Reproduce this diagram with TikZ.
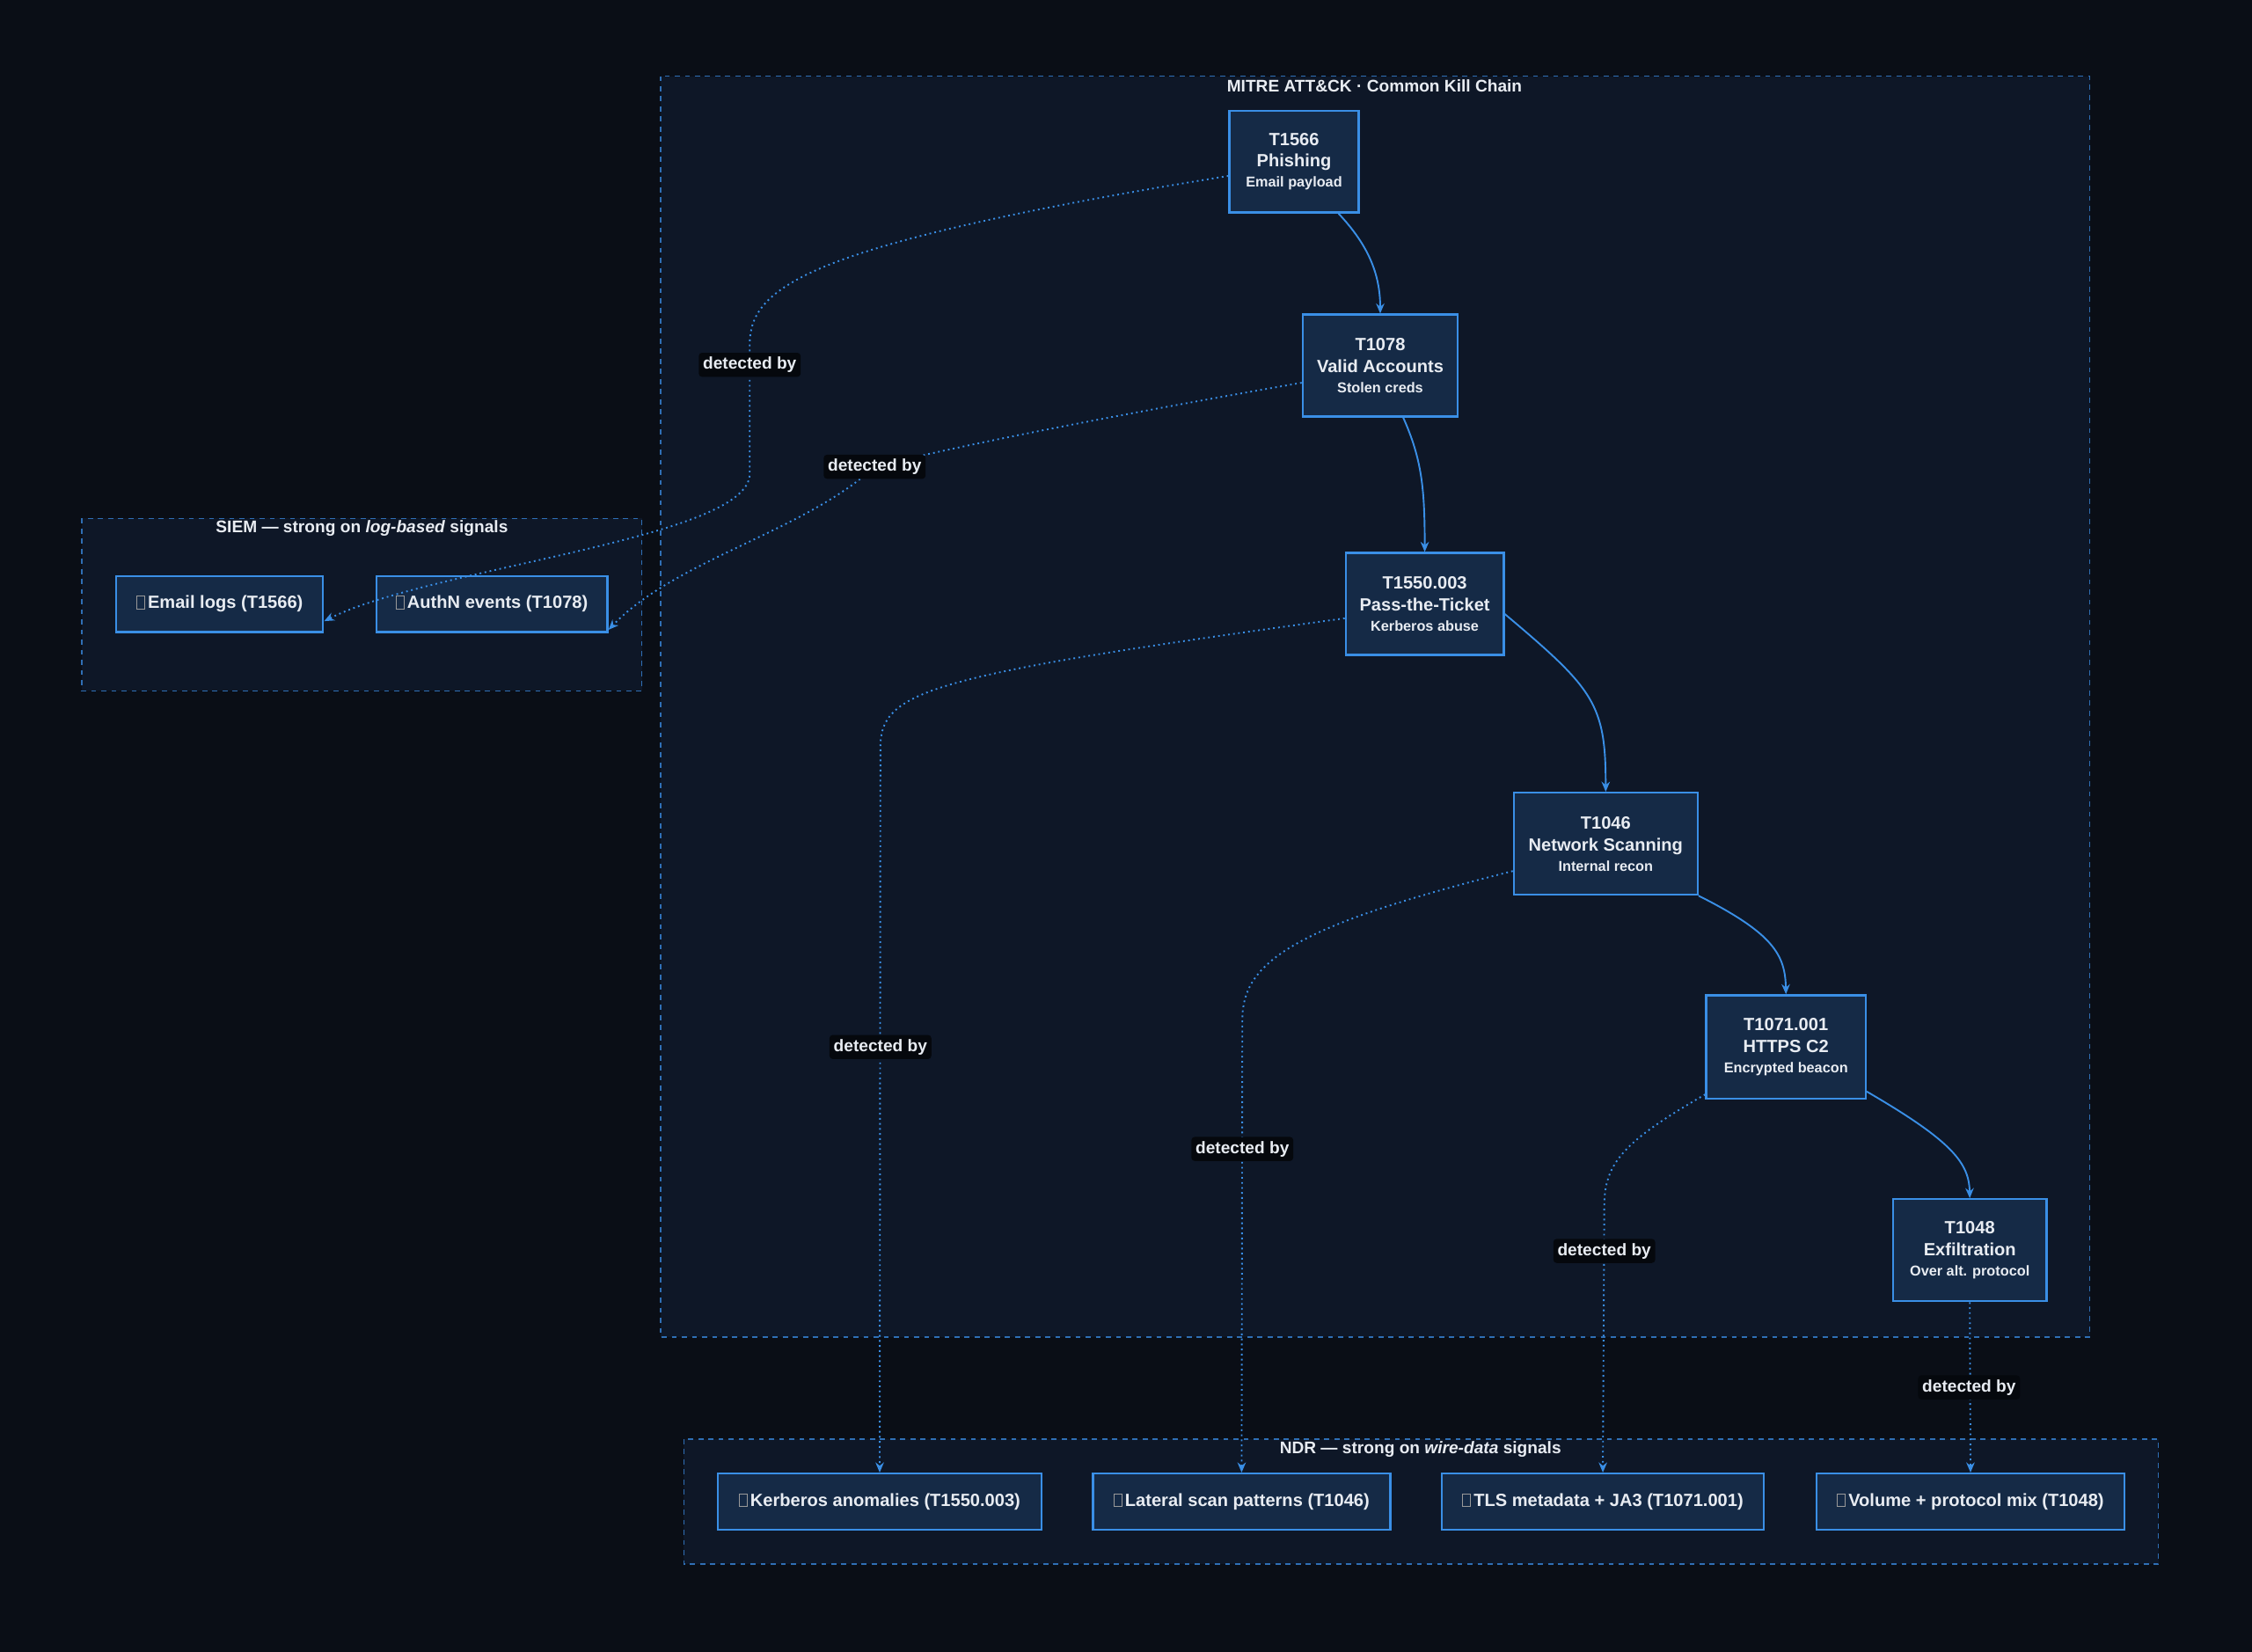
\documentclass[tikz,border=0pt]{standalone}
\usepackage{fontspec}
\setmainfont{Liberation Sans}
\usetikzlibrary{positioning,arrows.meta,calc}
\definecolor{bgdark}{HTML}{0A0E16}
\definecolor{clfill}{HTML}{0E1727}
\definecolor{clline}{HTML}{2F6FB5}
\definecolor{ndfill}{HTML}{152A46}
\definecolor{ndline}{HTML}{3A8FE6}
\definecolor{txt}{HTML}{E8ECF2}
\definecolor{lblfill}{HTML}{05080D}
\newcommand{\tofu}{{\color{gray!80}\setlength{\fboxsep}{0pt}\setlength{\fboxrule}{0.5pt}\fbox{\rule{0pt}{7pt}\hspace{4pt}}}\,}
\tikzset{
  cluster/.style={draw=clline,fill=clfill,dashed,line width=0.6pt},
  cltitle/.style={text=txt,font=\bfseries\fontsize{10}{12}\selectfont},
  attack/.style={draw=ndline,fill=ndfill,line width=1.2pt,text=txt,align=center,
    font=\bfseries\fontsize{10.5}{13}\selectfont,inner sep=0pt},
  sensor/.style={draw=ndline,fill=ndfill,line width=1.2pt,text=txt,
    font=\bfseries\fontsize{10.5}{13}\selectfont,inner sep=0pt,minimum height=39*0.03cm},
  chain/.style={draw=ndline,line width=1pt,-{Stealth[length=6pt,width=5pt]}},
  detect/.style={draw=ndline,line width=1pt,dotted,-{Stealth[length=6pt,width=5pt]}},
  detlbl/.style={fill=lblfill,text=txt,rounded corners=2pt,inner sep=2.5pt,
    font=\bfseries\fontsize{10}{12}\selectfont}
}
\newcommand{\sub}[1]{\\[-1pt]{\fontsize{8.5}{11}\selectfont #1}}
\begin{document}
\begin{tikzpicture}[x=0.03cm,y=-0.03cm]
\fill[bgdark] (0,0) rectangle (1568,1150);
\useasboundingbox (0,0) rectangle (1568,1150);
% clusters
\draw[cluster] (460,53) rectangle (1455,931);
\node[cltitle] (mitre) at (957,60) {MITRE ATT\&CK · Common Kill Chain};
\draw[cluster] (57,361) rectangle (447,481);
\node[cltitle] (siem) at (252,368) {SIEM — strong on \textit{log-based} signals};
\draw[cluster] (476,1002) rectangle (1503,1089);
\node[cltitle] (ndr) at (989,1009) {NDR — strong on \textit{wire-data} signals};
% kill chain
\node[attack,minimum width=90*0.03cm,minimum height=71*0.03cm] (phish) at (901,112.5) {T1566\\Phishing\sub{Email payload}};
\node[attack,minimum width=108*0.03cm,minimum height=71*0.03cm] (valid) at (961,254.5) {T1078\\Valid Accounts\sub{Stolen creds}};
\node[attack,minimum width=110*0.03cm,minimum height=71*0.03cm] (ptt) at (992,420.5) {T1550.003\\Pass-the-Ticket\sub{Kerberos abuse}};
\node[attack,minimum width=128*0.03cm,minimum height=71*0.03cm] (scan) at (1118,587.5) {T1046\\Network Scanning\sub{Internal recon}};
\node[attack,minimum width=111*0.03cm,minimum height=72*0.03cm] (c2) at (1243.5,729) {T1071.001\\HTTPS C2\sub{Encrypted beacon}};
\node[attack,minimum width=107*0.03cm,minimum height=71*0.03cm] (exfil) at (1371.5,870.5) {T1048\\Exfiltration\sub{Over alt. protocol}};
% sensors
\node[sensor,minimum width=144*0.03cm] (email) at (153,420.5) {\tofu Email logs (T1566)};
\node[sensor,minimum width=161*0.03cm] (authn) at (342.5,420.5) {\tofu AuthN events (T1078)};
\node[sensor,minimum width=225*0.03cm] (kerb) at (612.5,1045.5) {\tofu Kerberos anomalies (T1550.003)};
\node[sensor,minimum width=207*0.03cm] (lateral) at (864.5,1045.5) {\tofu Lateral scan patterns (T1046)};
\node[sensor,minimum width=224*0.03cm] (tls) at (1116,1045.5) {\tofu TLS metadata + JA3 (T1071.001)};
\node[sensor,minimum width=214*0.03cm] (volume) at (1372,1045.5) {\tofu Volume + protocol mix (T1048)};
% chain edges
\draw[chain] ([xshift=31*0.03cm]phish.south) .. controls (952,170) and (961,190) .. (valid.north);
\draw[chain] ([xshift=16*0.03cm]valid.south) .. controls (990,320) and (992,340) .. (ptt.north);
\draw[chain] ([yshift=-7*0.03cm]ptt.east) .. controls (1110,480) and (1118,490) .. (scan.north);
\draw[chain] (scan.south east) .. controls (1235,650) and (1243,665) .. (c2.north);
\draw[chain] ([yshift=-31*0.03cm]c2.east) .. controls (1360,795) and (1371,810) .. (exfil.north);
% detection edges
\draw[detect] ([yshift=-10*0.03cm]phish.west) .. controls (560,170) and (522,200) .. (522,240)
  -- (522,330) .. controls (522,375) and (300,395) .. ([yshift=-12*0.03cm]email.east);
\node[detlbl] (d1) at (522,254) {detected by};
\draw[detect] ([yshift=-12*0.03cm]valid.west) .. controls (760,292) and (660,312) .. (609,325)
  .. controls (560,370) and (470,390) .. ([yshift=-18*0.03cm]authn.east);
\node[detlbl] (d2) at (609,325) {detected by};
\draw[detect] ([yshift=-10*0.03cm]ptt.west) .. controls (650,470) and (613,480) .. (613,520) -- (kerb.north);
\node[detlbl] (d3) at (613,729) {detected by};
\draw[detect] ([yshift=-19*0.03cm]scan.west) .. controls (900,645) and (865,670) .. (865,710) -- (lateral.north);
\node[detlbl] (d4) at (865,800) {detected by};
\draw[detect] ([yshift=-33*0.03cm]c2.west) .. controls (1130,795) and (1117,810) .. (1117,840) -- (tls.north);
\node[detlbl] (d5) at (1117,871) {detected by};
\draw[detect] (exfil.south) -- (volume.north);
\node[detlbl] (d6) at (1371,966) {detected by};
\end{tikzpicture}
\end{document}
